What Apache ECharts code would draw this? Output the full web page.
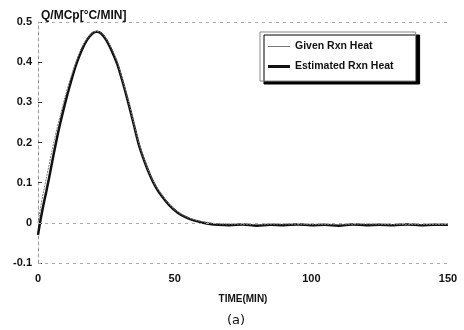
<!DOCTYPE html>
<html>
<head>
<meta charset="utf-8">
<script src="https://cdn.jsdelivr.net/npm/echarts@6/dist/echarts.min.js"></script>
<style>
  html, body { margin: 0; padding: 0; background: #fff; }
  #main { width: 464px; height: 330px; }
</style>
</head>
<body>
<div id="main"></div>
<script>
// time in minutes
const givenTime = [0, 1, 2, 3, 4, 5, 6, 7, 8, 10, 12, 14, 16, 18, 20, 21.5, 23, 25, 27, 29, 31, 33, 35, 37, 39, 41, 43, 45, 48, 51, 54, 57, 60, 65, 70, 80, 90, 100, 110, 120, 130, 140, 150];
const givenHeat = [0, 0.04, 0.077, 0.11, 0.142, 0.176, 0.207, 0.237, 0.263, 0.316, 0.362, 0.402, 0.436, 0.459, 0.473, 0.477, 0.474, 0.458, 0.433, 0.401, 0.355, 0.305, 0.25, 0.196, 0.155, 0.121, 0.093, 0.072, 0.046, 0.028, 0.016, 0.008, 0.003, -0.002, -0.003, -0.004, -0.003, -0.004, -0.004, -0.003, -0.004, -0.004, -0.004];

const estTime = [0, 1, 2, 3, 4, 5, 6, 7, 8, 10, 12, 14, 16, 18, 20, 21.5, 23, 25, 27, 29, 31, 33, 35, 37, 39, 41, 43, 45, 48, 51, 54, 57, 60, 63, 66, 70, 75, 80, 85, 90, 95, 100, 105, 110, 115, 120, 125, 130, 135, 140, 145, 150];
const estHeat = [-0.03, 0.01, 0.045, 0.077, 0.11, 0.145, 0.18, 0.213, 0.244, 0.3, 0.35, 0.395, 0.43, 0.456, 0.472, 0.476, 0.472, 0.455, 0.428, 0.395, 0.35, 0.3, 0.246, 0.192, 0.152, 0.118, 0.09, 0.069, 0.044, 0.026, 0.014, 0.006, 0.001, -0.003, -0.005, -0.006, -0.004, -0.007, -0.005, -0.006, -0.004, -0.006, -0.005, -0.007, -0.004, -0.006, -0.005, -0.006, -0.004, -0.006, -0.005, -0.005];

const xTicks = [0, 50, 100, 150];
const yTicks = [-0.1, 0, 0.1, 0.2, 0.3, 0.4, 0.5];

const zip = (xs, ys) => xs.map((x, i) => [x, ys[i]]);

const chart = echarts.init(document.getElementById('main'));
const font = 'Liberation Sans';

chart.setOption({
  animation: false,
  backgroundColor: '#fff',
  grid: { left: 38, right: 16, top: 22, bottom: 67, show: false },
  title: [
    { text: 'Q/MCp[°C/MIN]', left: 36, top: 5, textStyle: { fontFamily: font, fontWeight: 'bold', fontSize: 12, color: '#111' } },
    { text: '(a)', left: 222, top: 309, textStyle: { fontFamily: 'DejaVu Sans', fontWeight: 'normal', fontSize: 13, color: '#111' } }
  ],
  legend: {
    left: 260, top: 32, orient: 'vertical',
    itemWidth: 22, itemHeight: 10, itemGap: 9,
    padding: [9, 22, 9, 8],
    backgroundColor: '#fff', borderColor: '#888', borderWidth: 1,
    shadowColor: '#000', shadowBlur: 0, shadowOffsetX: 4, shadowOffsetY: 3,
    textStyle: { fontFamily: font, fontWeight: 'bold', fontSize: 10.5, color: '#111' },
    data: [
      { name: 'Given Rxn Heat', icon: 'path://M0,0H22V1H0Z' },
      { name: 'Estimated Rxn Heat', icon: 'path://M0,0H22V3H0Z' }
    ]
  },
  xAxis: {
    type: 'value', min: 0, max: 150, interval: 50,
    name: 'TIME(MIN)', nameLocation: 'middle', nameGap: 31,
    nameTextStyle: { fontFamily: font, fontWeight: 'bold', fontSize: 10, color: '#111' },
    axisLine: { show: false },
    axisTick: { show: false },
    splitLine: { show: false },
    axisLabel: { fontFamily: font, fontWeight: 'bold', fontSize: 11, color: '#111', margin: 10,
      formatter: v => xTicks.includes(v) ? String(v) : '' }
  },
  yAxis: {
    type: 'value', min: -0.1, max: 0.5, interval: 0.1,
    axisLine: { show: true, onZero: false, lineStyle: { color: '#999', type: [3, 3], width: 1 } },
    axisTick: { show: true, inside: true, length: 4, lineStyle: { color: '#333' } },
    splitLine: { show: false },
    axisLabel: { fontFamily: font, fontWeight: 'bold', fontSize: 11, color: '#111', margin: 6,
      formatter: v => { const r = Math.round(v * 10) / 10; return yTicks.includes(r) ? String(r) : ''; } }
  },
  series: [
    {
      name: 'Given Rxn Heat', type: 'line', symbol: 'none', smooth: 0.3, z: 3,
      lineStyle: { color: '#777', width: 1, type: [2, 1] },
      itemStyle: { color: '#777' },
      data: zip(givenTime, givenHeat),
      markLine: {
        silent: true, symbol: 'none', label: { show: false },
        lineStyle: { color: '#aaa', type: [3, 4], width: 1 },
        data: [{ yAxis: 0.5 }, { yAxis: 0 }, { yAxis: -0.1 }]
      }
    },
    {
      name: 'Estimated Rxn Heat', type: 'line', symbol: 'none', smooth: 0.3, z: 2,
      lineStyle: { color: '#111', width: 2.5 },
      itemStyle: { color: '#111' },
      data: zip(estTime, estHeat)
    }
  ]
});
</script>
</body>
</html>
